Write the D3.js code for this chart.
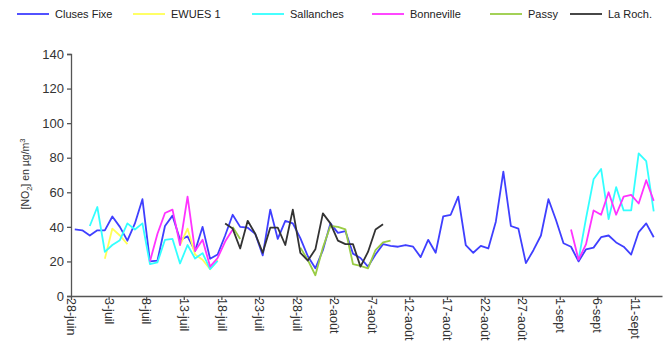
<!DOCTYPE html>
<html>
<head>
<meta charset="utf-8">
<script src="https://cdn.jsdelivr.net/npm/d3@7"></script>
<style>
  html, body { margin: 0; padding: 0; background: #fff; }
  svg { display: block; font-family: "Liberation Sans", Arial, sans-serif; }
</style>
</head>
<body>
<svg id="chart" width="665" height="354"></svg>
<script>
// Daily NO2 concentrations (µg/m3), index 0 = 28 juin, one value per day
const seriesNames = ["Cluses Fixe", "EWUES 1", "Sallanches", "Bonneville", "Passy", "La Roch."];
const seriesColors = ["#3f3fff", "#ffff55", "#33ffff", "#ff33ff", "#99cc44", "#333333"];

const clusesFixe = [38.5,38,35,38,38,46,40,32,42,56, 20,20.5,40.5,46.5,32.5,34.5,26,40,21.5,24,
  35,47,40,39.5,36,23.5,50,33,43.5,42, 33.5,23,16,26.5,42,36.5,37.5,24.5,22,17,
  24,30,29,28.5,29.5,28.5,22.5,32.5,25,46, 47,57.5,29.5,25,29,27.5,43,72,40.5,39,
  19,26.5,35,56,44,30.5,28.5,20,27,28, 34,35,31,28.5,24,37,42,34];

const N = clusesFixe.length;
function fill(segments) {
  const arr = new Array(N).fill(null);
  segments.forEach(([start, vals]) => vals.forEach((v, k) => { arr[start + k] = v; }));
  return arr;
}

const ewues1 = fill([[4, [21.5,39,35,30]], [14, [29.5,39,24,21,15.5,21]]]);
const sallanches = fill([[2, [40.5,51.5,25.5,29.5,32.3,42,38.5,42,18.5,19.5,32.5,33,18.8,29.5,21.7,24.8,15.6,20.3]],
  [67, [21,45,67.5,73.5,44.5,63,49.5,49.5,82.5,78,49]]]);
const bonneville = fill([[10, [20,36,48,50,29.5,57.5,26,32.5,17,22,31.5,38.5]],
  [66, [38.5,21,30,49.5,47,60,47,57.5,58.5,53.5,67,55]]]);
const passy = fill([[21, [40,33]], [30, [28,20.8,12,28,40.5,40,38.5,18.5,17.4,16,26.6,31,32]]]);
const laRoch = fill([[20, [42,39,27.5,43.5,36,25,39.5,39.5,29.5,50,25,20.5,27,47.8,42,32,30,30,17,25.5,38.5,41.5]]]);

const seriesValues = [clusesFixe, ewues1, sallanches, bonneville, passy, laRoch];

// Axis ticks: every 5 days from 28 juin
const tickDays = [0,5,10,15,20,25,30,35,40,45,50,55,60,65,70,75];
const tickLabels = ["28-juin","3-juil","8-juil","13-juil","18-juil","23-juil","28-juil","2-août",
  "7-août","12-août","17-août","22-août","27-août","1-sept","6-sept","11-sept"];
const yTicks = [0,20,40,60,80,100,120,140];

const svg = d3.select("#chart");
const x = d3.scaleLinear().domain([0, 78.6]).range([71, 662]);
const y = d3.scaleLinear().domain([0, 140]).range([296, 54]);

// Series lines, one path per station, gaps where no measurement
const line = d3.line()
  .defined(d => d.v != null)
  .x(d => x(d.i + 0.5))
  .y(d => y(d.v));

seriesValues.forEach((vals, s) => {
  const pts = vals.map((v, i) => ({ i, v }));
  svg.append("path")
    .attr("d", line(pts))
    .attr("fill", "none")
    .attr("stroke", seriesColors[s])
    .attr("stroke-width", 1.8)
    .attr("stroke-linejoin", "round");
});

// Y axis
const yAxis = svg.append("g")
  .attr("transform", `translate(${x(0)},0)`)
  .call(d3.axisLeft(y).tickValues(yTicks).tickSize(4).tickPadding(3));
yAxis.select(".domain").attr("stroke", "#555").attr("stroke-width", 1.3);
yAxis.selectAll(".tick line").attr("stroke", "#555").attr("stroke-width", 1.3);
yAxis.selectAll(".tick text").attr("fill", "#333").style("font-size", "13px");

// X axis
const xAxis = svg.append("g")
  .attr("transform", `translate(0,${y(0)})`)
  .call(d3.axisBottom(x).tickValues(tickDays).tickFormat((d, k) => tickLabels[k]).tickSize(4).tickSizeOuter(0));
xAxis.select(".domain").attr("stroke", "#555").attr("stroke-width", 1.3);
xAxis.selectAll(".tick line").attr("stroke", "#555").attr("stroke-width", 1.3);
xAxis.selectAll(".tick text")
  .attr("fill", "#333")
  .style("font-size", "12.5px")
  .attr("text-anchor", "start")
  .attr("dy", "0.35em")
  .attr("transform", "translate(0,2) rotate(90)")
  .attr("x", 0)
  .attr("y", 0);

// Y axis title
const yTitle = svg.append("text")
  .attr("transform", "translate(29,174) rotate(-90)")
  .attr("text-anchor", "middle")
  .attr("fill", "#333")
  .style("font-size", "10.5px");
yTitle.append("tspan").text("[NO");
yTitle.append("tspan").attr("dy", 3).style("font-size", "7.5px").text("2");
yTitle.append("tspan").attr("dy", -3).text("] en µg/m");
yTitle.append("tspan").attr("dy", -4).style("font-size", "7.5px").text("3");

// Legend
const legendX = [17, 133, 252, 372, 490, 570];
const legend = svg.append("g");
seriesNames.forEach((name, s) => {
  const g = legend.append("g").attr("transform", `translate(${legendX[s]},14)`);
  g.append("line").attr("x1", 0).attr("x2", 32).attr("y1", 0).attr("y2", 0)
    .attr("stroke", seriesColors[s]).attr("stroke-width", 1.8);
  g.append("text").attr("x", 38).attr("y", 0).attr("dy", "0.35em")
    .attr("fill", "#222").style("font-size", "11px").text(name);
});
</script>
</body>
</html>
